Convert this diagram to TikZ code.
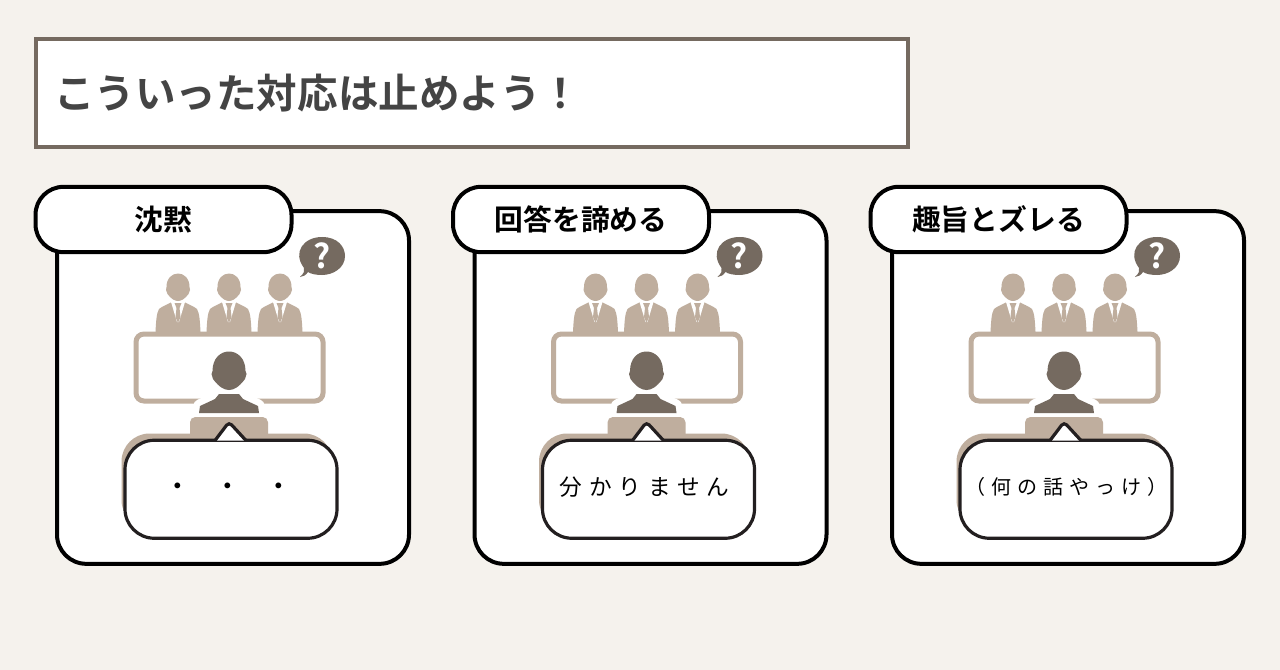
\documentclass[tikz,border=0pt]{standalone}
\usepackage{fontspec}
\newfontfamily\jpbold{Noto Sans CJK JP Bold}
\newfontfamily\jpthin[LetterSpace=30]{Noto Sans CJK JP}
\usepackage{tikz}
\definecolor{paper}{HTML}{F5F2ED}
\definecolor{tan}{HTML}{BFAE9E}
\definecolor{umber}{HTML}{756A60}
\definecolor{ink}{HTML}{231F20}
\definecolor{headgray}{HTML}{444444}
\tikzset {
    titlebox/.style={draw=umber, fill=white, line width=3pt, minimum width=654pt, minimum height=81pt, inner sep=0pt},
    panel/.style={draw=black, fill=white, line width=3pt, rounded corners=22pt, minimum width=264pt, minimum height=264.5pt, inner sep=0pt},
    tab/.style={draw=black, fill=white, line width=3pt, rounded corners=21pt, minimum width=192pt, minimum height=49pt, inner sep=0pt, font=\jpbold\fontsize{21.6}{21.6}\selectfont},
    bubble/.style={draw=ink, fill=white, line width=2.4pt, rounded corners=22pt, minimum width=159pt, minimum height=73.5pt, inner sep=0pt},
    saying/.style={inner sep=0pt, font=\jpthin\fontsize{17}{17}\selectfont},
    pics/panelist/.style={code={
        \fill[tan] (-11.5,0) .. controls (-11.5,-18) and (11.5,-18) .. (11.5,0)
            -- (12,3) -- (10.5,7) .. controls (7,12) and (3,14) .. (0,14)
            .. controls (-3,14) and (-7,12) .. (-10.5,7) -- (-12,3) -- cycle;
        \fill[tan] (-22.5,45) .. controls (-22,35) and (-21.5,26) .. (-19,22)
            .. controls (-16,19.5) and (-10,17) .. (-6,15) -- (6,15)
            .. controls (10,17) and (16,19.5) .. (19,22)
            .. controls (21.5,26) and (22,35) .. (22.5,45) -- cycle;
        \fill[white] (-7,15) -- (7,15) -- (1,35) -- (-1,35) -- cycle;
        \fill[tan] (-3.5,16) -- (3.5,16) -- (1.5,21) -- (2.5,30) -- (0,36) -- (-2.5,30) -- (-1.5,21) -- cycle;
    }},
    pics/speaker/.style={code={
        \draw[white, line width=10pt, line join=round] (-30,42) -- (-29,35) -- (-14,28) -- (-10,23) -- (10,23) -- (14,28) -- (29,35) -- (30,42) -- cycle;
        \fill[umber] (-16.5,0) .. controls (-16.5,-26) and (16.5,-26) .. (16.5,0)
            -- (17.5,3) -- (16,8) .. controls (10,16) and (5,19) .. (0,19)
            .. controls (-5,19) and (-10,16) .. (-16,8) -- (-17.5,3) -- cycle;
        \fill[umber] (-30,42) -- (-29,35) -- (-14,28) -- (-10,23) -- (10,23) -- (14,28) -- (29,35) -- (30,42) -- cycle;
    }}
}
\begin{document}
\begin{tikzpicture}[x=0.75pt, y=-0.75pt]
\useasboundingbox (0,0) rectangle (1280,670);
\fill[paper] (0,0) rectangle (1280,670);

\node[titlebox] (headbox) at (472,93) {};
\node[anchor=west, inner sep=0pt, text=headgray, font=\jpbold\fontsize{30.4}{30.4}\selectfont] (headtext) at (54,93) {こういった対応は止めよう！};

\foreach \px/\pname/\ptitle/\psayx/\psayy/\psize/\psay in {
    0/a/沈黙/228/489/17/{\jpbold ・\hspace{21pt}・\hspace{21pt}・},
    417.5/b/回答を諦める/227/487/17/分かりません,
    835/c/趣旨とズレる/231.5/487/15/{（何の話やっけ）}
} {
\begin{scope}[shift={(\px,0)}]
\node[panel] (panel\pname) at (233,387.5) {};
\node[tab] (tab\pname) at (163.5,219.5) {\ptitle};

% question bubble
\fill[umber] (300,277) .. controls (304,273) and (305,271) .. (304,268)
    .. controls (292,252) and (304,237) .. (322,237)
    .. controls (338,237) and (345,247) .. (345,256)
    .. controls (345,268) and (333,275) .. (322,275)
    .. controls (316,275) and (311,274) .. (308,272)
    .. controls (306,275) and (303,277) .. (300,277) -- cycle;
\node[text=white, inner sep=0pt, font=\jpbold\fontsize{25}{25}\selectfont] (mark\pname) at (322,256) {?};

\pic at (178,287) {panelist};
\pic at (229,287) {panelist};
\pic at (280,287) {panelist};

\draw[tan, line width=3.75pt, fill=white, rounded corners=6pt] (136,334) rectangle (323,401);
\pic at (229,371) {speaker};

\fill[tan, rounded corners=4pt] (190,440) -- (190,417) -- (268,417) -- (268,440) -- cycle;
\fill[tan, rounded corners=21pt] (121.5,433.5) rectangle (332,528);

\node[bubble] (bubble\pname) at (231,489.25) {};
\fill[white] (216,440.5) -- (229,422.5) -- (245,440.5) -- cycle;
\draw[ink, line width=2.4pt, rounded corners=3pt] (215,440.5) -- (229,422) -- (246,440.5);

\node[saying, font=\jpthin\fontsize{\psize}{\psize}\selectfont] (say\pname) at (\psayx,\psayy) {\psay};
\end{scope}
}
\end{tikzpicture}
\end{document}
